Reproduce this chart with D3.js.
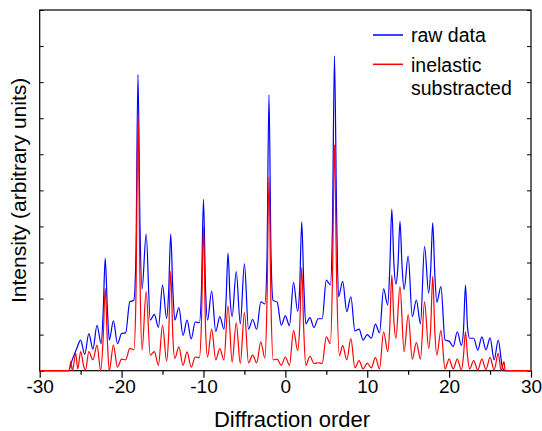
<!DOCTYPE html>
<html>
<head>
<meta charset="utf-8">
<script src="https://cdn.jsdelivr.net/npm/d3@7"></script>
<style>
  html, body { margin: 0; padding: 0; background: #fff; }
  svg { display: block; }
  text { font-family: "Liberation Sans", Arial, sans-serif; fill: #000; }
</style>
</head>
<body>
<div id="chart"></div>
<script>
// ---- data ----
const rawOrder = [-30, -26.5, -26, -25.5, -25, -24.5, -24, -23.5, -23, -22.5, -22.25, -22, -21.75, -21.5, -21, -20.5, -20, -19.5, -19, -18.5, -18.25, -18, -17.75, -17.5, -17, -16.5, -16, -15.5, -15, -14.5, -14.25, -14, -13.75, -13.5, -13, -12.5, -12, -11.5, -11, -10.5, -10.25, -10, -9.75, -9.5, -9, -8.5, -8, -7.5, -7.25, -7, -6.75, -6.5, -6, -5.5, -5, -4.5, -4, -3.5, -3, -2.5, -2.25, -2, -1.75, -1.5, -1, -0.5, 0, 0.5, 1, 1.5, 1.75, 2, 2.25, 2.5, 3, 3.5, 4, 4.5, 5, 5.5, 5.75, 6, 6.25, 6.5, 7, 7.5, 8, 8.5, 9, 9.5, 10, 10.5, 11, 11.5, 12, 12.5, 12.75, 13, 13.25, 13.5, 13.75, 14, 14.25, 14.5, 15, 15.5, 16, 16.5, 17, 17.5, 17.75, 18, 18.25, 18.5, 19, 19.5, 20, 20.5, 21, 21.5, 21.75, 22, 22.25, 22.5, 23, 23.5, 24, 24.5, 25, 25.5, 26, 26.5, 26.8, 30];
const rawIntensity = [0, 0, 0.32, 0.6, 0.85, 0.45, 1.03, 0.6, 1.26, 0.75, 1.6, 3.12, 1.8, 0.85, 1.38, 0.75, 1.03, 1.05, 1.91, 1.95, 3.2, 8.21, 4.0, 2.26, 3.79, 1.4, 1.56, 1.2, 2.37, 1.45, 2.2, 3.79, 2.3, 1.4, 1.75, 0.98, 1.4, 0.88, 1.35, 1.33, 2.2, 4.75, 2.3, 1.4, 2.21, 1.09, 1.5, 1.15, 1.9, 3.26, 2.0, 1.5, 2.75, 1.3, 2.96, 1.15, 1.42, 1.15, 1.91, 1.85, 3.0, 7.65, 3.2, 1.95, 1.9, 1.26, 1.52, 1.25, 2.45, 1.65, 2.3, 4.13, 2.4, 1.3, 1.47, 1.2, 1.44, 1.44, 2.51, 2.38, 4.0, 8.72, 4.5, 2.05, 2.48, 1.64, 2.05, 1.1, 1.15, 0.85, 1.0, 0.9, 1.29, 1.05, 2.27, 1.82, 2.8, 4.48, 3.0, 2.4, 2.9, 4.14, 2.9, 2.25, 3.18, 1.5, 1.96, 1.3, 3.45, 2.15, 2.8, 4.1, 2.7, 1.9, 2.33, 0.85, 0.82, 0.67, 1.08, 0.7, 1.1, 2.37, 1.2, 0.9, 0.9, 0.57, 0.94, 0.58, 0.91, 0.3, 0.85, 0.1, 0, 0];

const subOrder = [-30, -26.4, -26.2, -26.0, -25.6, -25.35, -25.0, -24.6, -24.4, -24.0, -23.5, -23.0, -22.55, -22.25, -22.0, -21.75, -21.5, -21.0, -20.5, -20.0, -19.5, -19.0, -18.5, -18.25, -18.0, -17.75, -17.5, -17.0, -16.5, -16.0, -15.5, -15.0, -14.5, -14.25, -14.0, -13.75, -13.5, -13.0, -12.5, -12.0, -11.5, -11.0, -10.5, -10.25, -10.0, -9.75, -9.5, -9.0, -8.5, -8.0, -7.5, -7.0, -6.5, -6.0, -5.5, -5.0, -4.5, -4.0, -3.5, -3.0, -2.5, -2.25, -2.0, -1.75, -1.5, -1.0, -0.5, 0.0, 0.5, 1.0, 1.5, 1.75, 2.0, 2.25, 2.5, 3.0, 3.5, 4.0, 4.5, 5.0, 5.5, 5.75, 6.0, 6.25, 6.6, 7.0, 7.5, 8.0, 8.5, 9.0, 9.5, 10.0, 10.5, 11.0, 11.5, 12.0, 12.5, 12.75, 13.0, 13.25, 13.5, 14.0, 14.5, 15.0, 15.5, 16.0, 16.5, 17.0, 17.5, 17.75, 18.0, 18.25, 18.5, 19.0, 19.5, 20.0, 20.5, 21.0, 21.5, 21.75, 22.0, 22.25, 22.5, 23.0, 23.5, 24.0, 24.5, 25.0, 25.5, 26.0, 26.35, 26.7, 26.85, 30];
const subIntensity = [0, 0, 0.25, 0, 0.48, 0.05, 0.53, 0.1, 0.02, 0.53, 0.3, 0.71, 0, 0.9, 2.28, 0.9, 0, 0.71, 0.1, 0.32, 0.3, 0.62, 0.58, 2.0, 7.1, 2.5, 0.57, 2.19, 0.43, 0.53, 0.15, 1.26, 0.27, 1.0, 2.76, 1.0, 0.34, 0.66, 0.15, 0.52, 0.1, 0.38, 0.36, 1.3, 3.99, 1.2, 0.38, 1.15, 0.3, 0.61, 0.3, 1.8, 0.24, 1.33, 0.2, 1.61, 0.22, 0.43, 0.22, 0.8, 0.35, 1.8, 5.37, 1.8, 0.3, 0.32, 0.15, 0.38, 0.15, 1.12, 0.56, 1.2, 2.86, 1.1, 0.15, 0.4, 0.2, 0.22, 0.2, 0.94, 0.75, 2.5, 6.26, 2.7, 0.42, 0.7, 0.3, 0.89, 0.08, 0.28, 0.05, 0.21, 0.08, 0.36, 0.05, 1.08, 0.53, 1.2, 2.65, 1.4, 0.9, 2.33, 0.53, 1.55, 0.32, 0.78, 0.32, 1.91, 0.62, 1.2, 2.62, 1.1, 0.43, 1.12, 0.05, 0.32, 0.05, 0.32, 0.02, 0.4, 1.08, 0.4, 0.05, 0.28, 0.02, 0.32, 0.03, 0.37, 0.02, 0.48, 0, 0.25, 0, 0];

const xMajorTicks = [-30, -20, -10, 0, 10, 20, 30];
const xMinorTicks = [-25, -15, -5, 5, 15, 25];
const yTicks = [0, 1, 2, 3, 4, 5, 6, 7, 8, 9, 10];

const seriesNames = ["raw data", "inelastic", "substracted"];
const xTitle = "Diffraction order";
const yTitle = "Intensity (arbitrary units)";

// ---- layout ----
const W = 542, H = 431;
const pLeft = 39.7, pRight = 531, pTop = 10, pBottom = 370.7;

const svg = d3.select("#chart").append("svg")
  .attr("width", W).attr("height", H)
  .style("background", "#fff");

const x = d3.scaleLinear().domain([-30, 30]).range([pLeft, pRight]);
const y = d3.scaleLinear().domain([0, 10]).range([pBottom, pTop]);

const line = d3.line()
  .x(d => x(d[0]))
  .y(d => y(d[1]))
  .curve(d3.curveMonotoneX);

const rawData = rawOrder.map((v, i) => [v, rawIntensity[i]]);
const subData = subOrder.map((v, i) => [v, subIntensity[i]]);

const g = svg.append("g");

// bottom axis (outward ticks)
const xAxis = d3.axisBottom(x).tickValues(xMajorTicks).tickSize(7).tickPadding(2);
const xAxisG = g.append("g").attr("transform", `translate(0,${pBottom})`).call(xAxis);
xAxisG.select(".domain").remove();
xAxisG.selectAll("line").attr("stroke", "#000").attr("stroke-width", 1.2);
xAxisG.selectAll("text").attr("font-size", 19).attr("font-family", "Liberation Sans, Arial, sans-serif")
  .attr("fill", "#000")
  .text(d => d < 0 ? "-" + Math.abs(d) : String(d));

const xMinor = d3.axisBottom(x).tickValues(xMinorTicks).tickSize(4).tickFormat("");
const xMinorG = g.append("g").attr("transform", `translate(0,${pBottom})`).call(xMinor);
xMinorG.select(".domain").remove();
xMinorG.selectAll("line").attr("stroke", "#000").attr("stroke-width", 1.2);

// left & right axis (inward ticks, no labels)
const yLeft = d3.axisRight(y).tickValues(yTicks).tickSize(4).tickFormat("");
const yLeftG = g.append("g").attr("transform", `translate(${pLeft},0)`).call(yLeft);
yLeftG.select(".domain").remove();
yLeftG.selectAll("line").attr("stroke", "#000").attr("stroke-width", 1);

const yRight = d3.axisLeft(y).tickValues(yTicks).tickSize(4).tickFormat("");
const yRightG = g.append("g").attr("transform", `translate(${pRight},0)`).call(yRight);
yRightG.select(".domain").remove();
yRightG.selectAll("line").attr("stroke", "#000").attr("stroke-width", 1);

// frame
g.append("rect")
  .attr("x", pLeft).attr("y", pTop)
  .attr("width", pRight - pLeft).attr("height", pBottom - pTop)
  .attr("fill", "none").attr("stroke", "#000").attr("stroke-width", 1.2);

// curves
svg.append("path").datum(rawData)
  .attr("d", line).attr("fill", "none")
  .attr("stroke", "#0000ff").attr("stroke-width", 1.2).attr("stroke-linejoin", "round");
svg.append("path").datum(subData)
  .attr("d", line).attr("fill", "none")
  .attr("stroke", "#ff0000").attr("stroke-width", 1.2).attr("stroke-linejoin", "round");

// axis titles
svg.append("text")
  .attr("x", 292).attr("y", 427)
  .attr("text-anchor", "middle").attr("font-size", 22)
  .text(xTitle);
svg.append("text")
  .attr("transform", `translate(26,${(pTop + pBottom) / 2}) rotate(-90)`)
  .attr("text-anchor", "middle").attr("font-size", 21)
  .text(yTitle);

// legend
const leg = svg.append("g");
leg.append("line").attr("x1", 373).attr("x2", 403).attr("y1", 35).attr("y2", 35)
  .attr("stroke", "#0000ff").attr("stroke-width", 1.5);
leg.append("text").attr("x", 411).attr("y", 41.7).attr("font-size", 19.5).text(seriesNames[0]);
leg.append("line").attr("x1", 373).attr("x2", 403).attr("y1", 64.3).attr("y2", 64.3)
  .attr("stroke", "#ff0000").attr("stroke-width", 1.5);
leg.append("text").attr("x", 411).attr("y", 71.5).attr("font-size", 19.5).text(seriesNames[1]);
leg.append("text").attr("x", 411).attr("y", 95).attr("font-size", 19.5).text(seriesNames[2]);
</script>
</body>
</html>
